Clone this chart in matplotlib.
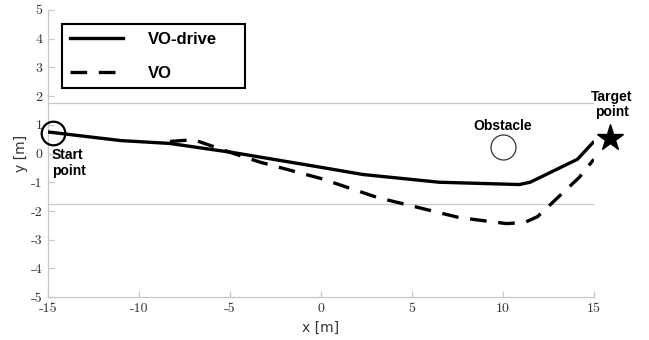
import matplotlib.pyplot as plt
import numpy as np

plt.rcParams['axes.unicode_minus'] = False

# trajectories
vo_drive_x = [-15, -11, -8.3, -4.8, 0, 2.3, 6.5, 10.9, 11.5, 14.1, 14.95]
vo_drive_y = [0.75, 0.45, 0.35, 0.03, -0.48, -0.73, -1.0, -1.08, -1.0, -0.2, 0.38]
vo_x = [-8.3, -7.0, -4.8, -3.35, 0, 3.1, 7.6, 10.2, 11.2, 11.9, 14.2, 15.0]
vo_y = [0.42, 0.48, 0.0, -0.3, -0.87, -1.53, -2.23, -2.44, -2.4, -2.2, -0.83, -0.2]

start = (-14.75, 0.7)
obstacle = (10.0, 0.22)
target = (15.9, 0.55)
lane = 1.75

fig = plt.figure(figsize=(6.49, 3.40), dpi=100)
ax = fig.add_axes([0.074, 0.126, 0.841, 0.845])

grey = '#c8c8c8'
ax.plot([-15, 15], [lane, lane], color=grey, lw=0.9, zorder=1)
ax.plot([-15, 15], [-lane, -lane], color=grey, lw=0.9, zorder=1)

ax.plot(vo_drive_x, vo_drive_y, color='black', lw=2.4, label='VO-drive', zorder=3)
ax.plot(vo_x, vo_y, color='black', lw=2.4, dashes=(5, 3.5), label='VO', zorder=3)

ax.plot(*start, marker='o', ms=17, mfc='none', mec='black', mew=1.6, zorder=4,
        clip_on=False)
ax.plot(*obstacle, marker='o', ms=18, mfc='white', mec='#333333', mew=0.9, zorder=4)
ax.plot(*target, marker='*', ms=20, color='black', zorder=4, clip_on=False)

tfont = dict(family='Liberation Sans', weight='bold', fontsize=10)
ax.text(-14.8, -0.32, 'Start\npoint', ha='left', va='center', linespacing=1.15, **tfont)
ax.text(obstacle[0], 0.95, 'Obstacle', ha='center', va='center', **tfont)
ax.text(16.0, 1.7, 'Target\npoint', ha='center', va='center', linespacing=1.1,
        clip_on=False, **tfont)

ax.set_xlim(-15, 15)
ax.set_ylim(-5, 5)
ax.set_xticks([-15, -10, -5, 0, 5, 10, 15])
ax.set_yticks(np.arange(-5, 6))
for lab in ax.get_xticklabels() + ax.get_yticklabels():
    lab.set_family('cmr10')
    lab.set_fontsize(10)
    lab.set_color('#333333')
ax.tick_params(direction='in', color=grey, length=4, width=0.9, pad=4)
for s in ['top', 'right']:
    ax.spines[s].set_visible(False)
for s in ['left', 'bottom']:
    ax.spines[s].set_color(grey)
    ax.spines[s].set_linewidth(0.9)

ax.set_xlabel('x [m]', fontsize=10, color='#333333', labelpad=4)
ax.set_ylabel('y [m]', fontsize=10, color='#333333', labelpad=2)

leg = ax.legend(loc='upper left', bbox_to_anchor=(0.026, 0.950, 0.335, 0.0),
                mode='expand', frameon=True,
                fancybox=False, edgecolor='black', framealpha=1,
                prop=dict(family='Liberation Sans', weight='bold', size=12),
                handlelength=3.2, handletextpad=1.5, labelspacing=1.15,
                borderpad=0.45, borderaxespad=0)
leg.get_frame().set_linewidth(1.5)

fig.savefig('out.png', dpi=100)
